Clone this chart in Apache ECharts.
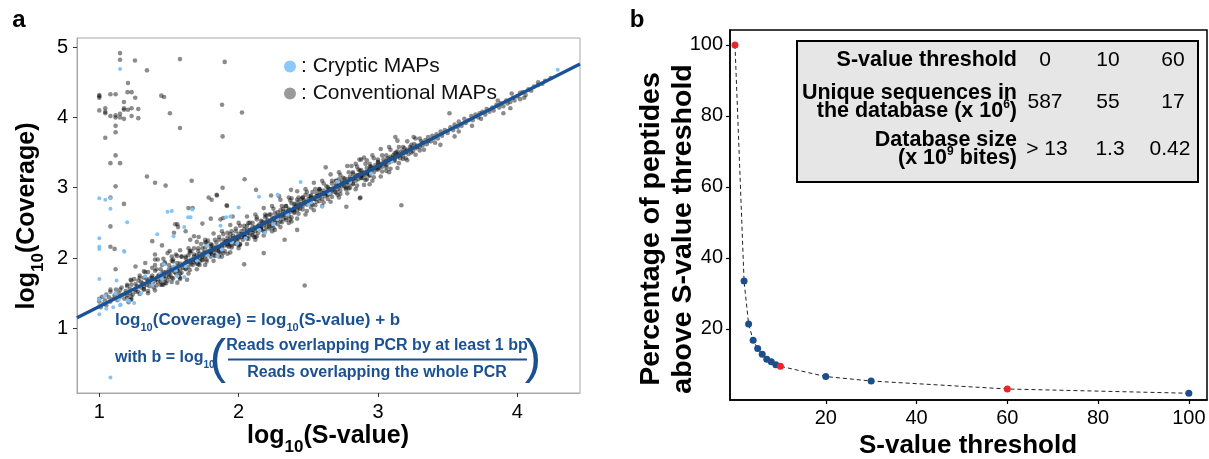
<!DOCTYPE html>
<html>
<head>
<meta charset="utf-8">
<script src="https://cdn.jsdelivr.net/npm/echarts@6/dist/echarts.min.js"></script>
<style>
html,body{margin:0;padding:0;background:#fff;}
#chart{width:1209px;height:459px;}
</style>
</head>
<body>
<div id="chart"></div>
<script>
// ---------- Panel a data: log10(S-value) vs log10(Coverage) ----------
const conventional = [
[1.149,4.915],[1.149,4.82],[1.256,4.81],[1.579,4.83],[1.90,4.79],[1.342,4.67],[1.206,4.49],[1.203,4.36],[1.232,4.36],
[1.0,4.32],[1.0,4.30],[1.0,4.28],[1.08,4.33],[1.117,4.33],[1.258,4.28],[1.445,4.31],[1.465,4.29],[1.0,4.10],[1.043,4.13],
[1.043,4.08],[1.043,4.06],[1.08,4.02],[1.117,4.03],[1.117,4.00],[1.149,4.05],[1.177,4.22],[1.177,4.13],[1.177,4.11],
[1.206,4.11],[1.232,4.13],[1.232,4.02],[1.177,3.98],[1.149,4.00],[1.28,4.12],[1.28,3.99],[1.507,4.06],[1.881,4.18],
[2.024,4.07],[1.043,3.71],[1.117,3.88],[1.117,3.79],[1.579,3.85],[1.885,3.73],[1.117,3.46],[1.08,3.35],[1.149,3.35],
[1.117,3.02],[1.342,3.16],[1.40,3.07],[1.476,3.03],[1.663,3.10],[1.885,3.00],[2.043,3.12],[1.842,2.90],[1.806,2.83],
[2.125,2.97],[1.177,2.77],[1.914,2.75],[2.233,2.89],[2.625,3.29],[1.08,2.86],[1.08,2.45],[1.08,2.16],[1.11,2.13],
[1.38,2.24],[1.45,2.18],[1.505,2.10],[1.558,2.03],[1.545,2.48],[1.565,2.44],[1.653,2.26],[1.713,2.30],[1.64,2.71],
[1.67,2.71],[1.785,2.86],[1.845,2.89],[1.917,2.74],[1.89,2.57],[1.87,2.55],[1.957,2.59],[2.29,2.88],[2.376,2.97],
[2.38,2.85],[2.42,2.83],[2.867,3.40],[2.945,3.30],[2.94,3.05],[2.87,2.85],[2.773,2.73],[2.474,1.61],[3.125,3.72],
[3.256,3.72],[3.513,4.06],[3.675,3.88],[3.168,2.75],[2.874,2.86],[2.81,3.31],[2.88,3.40],[2.92,3.39],[3.448,3.61],
[3.55,3.73],[3.58,3.80],[3.90,4.06],[3.95,4.13],[4.02,4.35],[4.15,4.50],
[1.117,1.84],[1.08,1.55],[1.225,1.69],[1.26,1.88],[1.32,1.81],[1.40,2.05],[1.49,2.07],[1.56,2.48],[1.536,2.36],
[1.33,1.93],[1.40,1.98],[1.62,2.38],[1.68,2.31],[1.74,2.49],[1.80,2.56],[1.225,1.41],[1.19,1.50],[1.15,1.55],[1.23,1.45],
[1.56,1.65],[1.63,1.69],[2.04,1.91],[2.18,2.07],[2.33,2.26],[2.42,2.40],[2.71,2.90],[2.77,2.98],
[1.00,1.38],[1.00,1.42],[1.01,1.30],[1.02,1.45],[1.03,1.35],[1.04,1.40],[1.05,1.48],[1.05,1.33],[1.07,1.44],[1.08,1.38],
[1.08,1.52],[1.10,1.42],[1.11,1.47],[1.12,1.55],[1.13,1.40],[1.14,1.50],[1.15,1.45],[1.16,1.58],[1.17,1.48],[1.18,1.42],
[1.19,1.53],[1.20,1.62],[1.20,1.47],[1.21,1.37],[1.22,1.56],
[1.22,1.50],[1.23,1.62],[1.24,1.48],[1.25,1.70],[1.26,1.55],[1.27,1.60],[1.28,1.52],[1.29,1.75],[1.30,1.58],[1.31,1.64],
[1.32,1.56],[1.33,1.80],[1.34,1.62],[1.35,1.68],[1.36,1.60],[1.37,1.72],[1.38,1.65],[1.39,1.58],[1.40,1.82],[1.41,1.70],
[1.42,1.66],[1.43,1.76],[1.44,1.62],[1.45,1.90],[1.46,1.74],[1.47,1.70],[1.48,1.80],[1.49,1.68],[1.50,1.84],[1.51,1.76],
[1.52,1.72],[1.53,1.95],[1.54,1.80],[1.55,1.78],[1.56,1.88],[1.57,1.74],[1.58,1.84],[1.59,2.02],[1.60,1.86],[1.35,1.50],
[1.42,1.98],[1.48,1.64],[1.55,2.05],[1.28,1.68],[1.45,1.78],[1.52,1.86],[1.58,1.78],[1.38,1.86],[1.47,1.94],
[1.61,1.92],[1.62,1.84],[1.62,2.00],[1.63,1.95],[1.64,1.88],[1.65,2.08],[1.65,1.94],[1.66,1.98],[1.67,1.90],[1.68,2.02],
[1.68,2.14],[1.69,1.96],[1.70,2.04],[1.70,1.92],[1.71,2.10],[1.72,2.00],[1.72,1.95],[1.73,2.20],[1.74,2.05],[1.74,1.98],
[1.75,2.08],[1.76,2.02],[1.76,2.15],[1.77,1.98],[1.78,2.10],[1.78,2.25],[1.79,2.06],[1.80,2.12],[1.80,2.02],[1.81,2.18],
[1.82,2.08],[1.82,2.14],[1.83,2.04],[1.84,2.22],[1.84,2.12],[1.85,2.10],[1.86,2.30],[1.86,2.16],[1.87,2.08],[1.88,2.20],
[1.88,2.14],[1.89,2.26],[1.90,2.18],[1.90,2.10],[1.91,2.24],[1.92,2.20],[1.92,2.36],[1.93,2.16],[1.94,2.28],[1.94,2.22],
[1.95,2.18],[1.96,2.32],[1.96,2.26],[1.97,2.20],[1.98,2.30],[1.98,2.42],[1.99,2.24],[2.00,2.34],[2.00,2.28],[2.01,2.20],
[2.02,2.38],[2.02,2.30],[2.03,2.26],[2.04,2.46],[2.04,2.34],[2.05,2.30],[2.06,2.40],[2.06,2.28],[2.07,2.36],[2.08,2.32],
[2.08,2.50],[2.09,2.40],[2.10,2.36],[2.10,2.44],[2.11,2.30],[2.12,2.42],[2.12,2.38],[2.13,2.55],[2.14,2.44],[2.14,2.36],
[2.15,2.48],[2.16,2.42],[2.16,2.40],[2.17,2.52],[2.18,2.46],[2.18,2.38],[2.19,2.58],[2.20,2.50],[2.20,2.44],[2.21,2.54],
[2.22,2.48],[2.22,2.42],[2.23,2.62],[2.24,2.52],[2.24,2.46],[2.25,2.56],[2.26,2.50],[2.26,2.64],[2.27,2.54],[2.28,2.60],
[2.28,2.48],[2.29,2.58],[2.30,2.52],[2.30,2.68],[2.31,2.60],[2.32,2.56],[2.32,2.66],[2.33,2.62],[2.34,2.54],[2.34,2.74],
[2.35,2.64],[2.36,2.60],[2.36,2.70],[2.37,2.66],[2.38,2.58],[2.38,2.78],[2.39,2.68],[2.40,2.72],[2.40,2.64],
[2.41,2.76],[2.42,2.68],[2.43,2.80],[2.43,2.72],[2.44,2.70],[2.45,2.84],[2.45,2.76],[2.46,2.74],[2.47,2.82],[2.48,2.78],
[2.48,2.90],[2.49,2.76],[2.50,2.84],[2.50,2.78],[2.51,2.88],[2.52,2.82],[2.53,2.76],[2.53,2.94],[2.54,2.86],[2.55,2.84],
[2.56,2.92],[2.56,2.80],[2.57,2.88],[2.58,2.98],[2.58,2.86],[2.59,2.90],[2.60,2.84],[2.61,2.96],[2.61,2.92],[2.62,2.88],
[2.63,3.02],[2.64,2.94],[2.64,2.90],[2.65,2.98],[2.66,2.92],[2.67,3.06],[2.67,2.96],[2.68,3.00],[2.69,2.94],[2.70,3.04],
[2.70,3.10],[2.71,2.98],[2.72,3.04],[2.73,2.96],[2.74,3.08],[2.74,3.02],[2.75,3.14],[2.76,3.06],[2.77,3.00],[2.78,3.12],
[2.78,3.08],[2.79,3.04],[2.80,3.16],[2.81,3.10],[2.82,3.06],[2.82,3.20],[2.83,3.14],[2.84,3.10],[2.85,3.18],[2.86,3.12],
[2.87,3.24],[2.88,3.16],[2.88,3.20],[2.89,3.14],[2.90,3.22],[2.91,3.18],[2.92,3.28],[2.93,3.20],[2.94,3.24],[2.94,3.18],
[2.95,3.30],[2.96,3.26],[2.97,3.22],[2.98,3.32],[2.99,3.26],[3.00,3.30],[3.00,3.36],[3.01,3.28],[3.02,3.34],[3.03,3.30],
[3.04,3.40],[3.05,3.34],[3.06,3.32],[3.07,3.42],[3.08,3.36],[3.09,3.44],[3.10,3.38],[3.11,3.46],[3.12,3.40],[3.13,3.50],
[3.14,3.44],[3.15,3.48],[3.16,3.42],[3.17,3.52],[3.18,3.46],[3.19,3.56],[3.20,3.50],
[3.21,3.54],[3.22,3.48],[3.23,3.58],[3.25,3.52],[3.26,3.62],[3.27,3.56],[3.28,3.60],[3.30,3.58],[3.31,3.66],[3.32,3.60],
[3.34,3.68],[3.35,3.62],[3.36,3.72],[3.38,3.66],[3.39,3.74],[3.40,3.70],[3.42,3.76],[3.43,3.70],[3.45,3.80],[3.46,3.74],
[3.48,3.82],[3.50,3.78],[3.33,3.54],[3.41,3.64],
[3.52,3.86],[3.54,3.82],[3.55,3.90],[3.57,3.86],[3.58,3.94],[3.60,3.88],[3.62,3.98],[3.63,3.92],[3.65,3.96],[3.67,4.02],
[3.68,3.96],[3.70,4.04],[3.72,4.00],[3.73,4.06],[3.75,4.08],[3.77,4.04],[3.78,4.12],[3.80,4.08],[3.82,4.14],[3.83,4.10],
[3.85,4.18],[3.87,4.14],[3.88,4.20],[3.90,4.16],[3.92,4.24],[3.93,4.20],[3.95,4.22],[3.97,4.28],[3.98,4.24],[4.00,4.30],
[4.02,4.26],[4.04,4.36],[4.06,4.32],[4.08,4.40],[4.10,4.38],[4.12,4.44],[4.15,4.46],[4.18,4.48],[4.20,4.52],[4.24,4.56],
[3.86,4.24],[3.96,4.34],[4.05,4.28],[3.74,3.98],
[1.30,1.66],[1.32,1.60],[1.34,1.70],[1.36,1.66],[1.38,1.72],[1.40,1.68],[1.42,1.74],[1.44,1.70],[1.46,1.80],[1.48,1.74],
[1.50,1.78],[1.52,1.82],[1.54,1.86],[1.56,1.82],[1.58,1.92],[1.60,1.90],[1.62,1.94],[1.64,1.96],[1.66,1.92],[1.68,1.98],
[1.70,2.00],[1.72,2.06],[1.74,2.02],[1.76,2.08],[1.78,2.06],[1.80,2.08],[1.82,2.12],[1.84,2.16],[1.86,2.14],[1.88,2.18],
[1.90,2.22],[1.92,2.24],[1.94,2.20],[1.96,2.28],[1.98,2.26],[2.00,2.30],[2.02,2.34],[2.04,2.32],[2.06,2.36],[2.08,2.40],
[2.10,2.40],[2.12,2.44],[2.14,2.46],[2.16,2.46],[2.18,2.50],[2.20,2.52],[2.22,2.52],[2.24,2.56],[2.26,2.58],[2.28,2.56],
[2.30,2.62],[2.32,2.62],[2.34,2.66],[2.36,2.68],[2.38,2.68],[2.40,2.70],[2.42,2.74],[2.44,2.76],[2.46,2.78],[2.48,2.80],
[2.50,2.80],[2.52,2.86],[2.54,2.84],[2.56,2.88],[2.58,2.90],[2.60,2.92],[2.62,2.92],[2.64,2.96],[2.66,2.98],[2.68,2.98],
[2.70,3.02],[2.72,3.02],[2.74,3.06],[2.76,3.08],[2.78,3.08],[2.80,3.12],[2.82,3.12],[2.84,3.16],[2.86,3.18],[2.88,3.18],
[2.90,3.20],[2.92,3.22],[2.94,3.26],[2.96,3.28],[2.98,3.28],[3.00,3.32],[3.02,3.32],[3.04,3.36],[3.06,3.38],[3.08,3.40],
[3.10,3.42],[3.12,3.44],[3.14,3.46],[3.16,3.46],[3.18,3.50],[3.20,3.52],[3.24,3.56],[3.28,3.58],[3.32,3.64],[3.36,3.66],
[1.45,1.62],[1.52,1.96],[1.66,2.10],[1.72,1.90],[1.80,2.20],[1.86,2.02],[1.94,2.34],[2.00,2.18],[2.06,2.46],[2.12,2.30],
[2.20,2.60],[2.26,2.40],[2.32,2.70],[2.38,2.52],[2.46,2.86],[2.52,2.72],[2.58,2.96],[2.64,2.84],[2.72,3.12],[2.80,3.00],
[2.86,3.26],[2.92,3.12],[3.00,3.40],[3.06,3.24],[3.14,3.52],[3.20,3.42],[1.58,1.70],[1.64,2.04],[1.76,2.22],[1.92,2.06],
[1.50,1.73],[1.50,1.90],[1.53,1.71],[1.53,1.98],[1.56,1.82],[1.56,1.93],[1.59,1.79],[1.59,2.02],[1.62,1.85],[1.62,2.02],
[1.65,1.83],[1.65,2.10],[1.68,1.94],[1.68,2.05],[1.71,1.91],[1.71,2.14],[1.74,1.97],[1.74,2.14],[1.77,1.95],[1.77,2.22],
[1.80,2.06],[1.80,2.17],[1.83,2.03],[1.83,2.26],[1.86,2.09],[1.86,2.26],[1.89,2.07],[1.89,2.34],[1.92,2.18],[1.92,2.29],
[1.95,2.15],[1.95,2.38],[1.98,2.21],[1.98,2.38],[2.01,2.19],[2.01,2.46],[2.04,2.30],[2.04,2.41],[2.07,2.27],[2.07,2.50],
[2.10,2.33],[2.10,2.50],[2.13,2.31],[2.13,2.58],[2.16,2.42],[2.16,2.53],[2.19,2.39],[2.19,2.62],[2.22,2.45],[2.22,2.62],
[2.25,2.43],[2.25,2.70],[2.28,2.54],[2.28,2.65],[2.31,2.51],[2.31,2.74],[2.34,2.57],[2.34,2.74],[2.37,2.55],[2.37,2.82],
[2.40,2.66],[2.40,2.77],[2.43,2.63],[2.43,2.86],[2.46,2.69],[2.46,2.86],[2.49,2.67],[2.49,2.94],[2.52,2.78],[2.52,2.89],
[2.55,2.75],[2.55,2.98],[2.58,2.81],[2.58,2.98],[2.61,2.79],[2.61,3.06],[2.64,2.90],[2.64,3.01],[2.67,2.87],[2.67,3.10],
[2.70,2.93],[2.70,3.10],[2.73,2.91],[2.73,3.18],[2.76,3.02],[2.76,3.13],[2.79,2.99],[2.79,3.22],[2.82,3.05],[2.82,3.22],
[2.85,3.03],[2.85,3.30],[2.88,3.14],[2.88,3.25],[2.91,3.11],[2.91,3.34],[2.94,3.17],[2.94,3.34],[2.97,3.15],[2.97,3.42],
[3.00,3.26],[3.00,3.37],[3.03,3.23],[3.03,3.46],[3.06,3.29],[3.06,3.46],[3.09,3.27],[3.09,3.54],[3.12,3.38],[3.12,3.49],
[3.15,3.35],[3.15,3.58],[3.18,3.41],[3.18,3.58],[3.21,3.39],[3.21,3.66],[3.24,3.50],[3.24,3.61],[3.27,3.47],[3.27,3.70],
[3.30,3.53],[3.30,3.70],
[1.20,1.43],[1.20,1.60],[1.23,1.41],[1.23,1.68],[1.26,1.52],[1.26,1.63],[1.29,1.49],[1.29,1.72],[1.32,1.55],[1.32,1.72],
[1.35,1.53],[1.35,1.80],[1.38,1.64],[1.38,1.75],[1.41,1.61],[1.41,1.84],[1.44,1.67],[1.44,1.84],[1.47,1.65],[1.47,1.92],
[1.40,1.90],[1.40,1.54],[1.46,1.99],[1.46,1.62],[1.52,2.02],[1.52,1.66],[1.58,2.11],[1.58,1.72],[1.64,2.14],[1.64,1.78],
[1.70,2.23],[1.70,1.84],[1.76,2.26],[1.76,1.90],[1.82,2.35],[1.82,1.96],[1.88,2.38],[1.88,2.02],[1.94,2.47],[1.94,2.08],
[2.00,2.50],[2.00,2.14],[2.06,2.59],[2.06,2.20],[2.12,2.62],[2.12,2.26],[2.18,2.71],[2.18,2.32],[2.24,2.74],[2.24,2.38],
[2.30,2.83],[2.30,2.44],[2.36,2.86],[2.36,2.50],[2.42,2.95],[2.42,2.56],[2.48,2.98],[2.48,2.62],[2.54,3.07],[2.54,2.68],
[2.60,3.10],[2.60,2.74],[2.66,3.19],[2.66,2.80],[2.72,3.22],[2.72,2.86],[2.78,3.31],[2.78,2.92],[2.84,3.34],[2.84,2.98],
[2.90,3.43],[2.90,3.04],[2.96,3.46],[2.96,3.10],[3.02,3.55],[3.02,3.16],[3.08,3.58],[3.08,3.22],[3.14,3.67],[3.14,3.28]
];
const cryptic = [
[1.149,4.69],[1.0,2.85],[1.043,2.83],[1.08,2.85],[2.146,2.87],[2.28,2.90],[2.445,3.08],[1.08,2.70],[1.20,2.51],
[1.416,2.34],[1.49,2.66],[1.52,2.67],[1.637,2.58],[1.655,2.58],[1.667,2.69],[1.0,2.28],[1.0,2.16],[1.0,2.13],
[1.177,2.10],[1.0,1.70],[1.124,1.68],[1.0,1.41],[1.0,1.32],[1.0,1.20],[1.04,1.46],[1.04,1.36],[1.08,0.30],
[1.117,1.50],[1.14,1.41],[1.153,1.34],[1.213,1.39],[1.33,1.74],[1.38,1.67],[1.44,1.77],[1.56,1.74],[1.61,1.73],
[1.464,1.91],[1.536,1.88],[1.775,2.17],[1.847,2.03],[1.99,2.21],[1.94,2.59],[2.19,2.36],[2.28,2.55],[2.52,2.79],
[2.0,2.72],[2.60,2.73],[2.706,3.09],[1.533,2.31],[1.61,2.44],[1.18,2.09],[1.87,2.46],[1.91,2.58],[4.29,4.68],[3.10,3.37],
[1.45,1.70],[1.55,1.82],[1.62,1.88],[1.70,1.96],[1.78,2.04],[1.88,2.12],[1.95,2.22],[2.05,2.28],[2.15,2.40],[2.25,2.48],
[2.35,2.62],[2.50,2.76],[2.65,2.92],[2.80,3.08],[2.95,3.20],[1.30,1.50],[1.38,1.62],[1.20,1.40],[1.25,1.36],[1.15,1.33],
[1.10,1.30],[1.05,1.28]
];
// fitted line log10(Coverage) = log10(S-value) + b, end points
const regLine = [[0.84,1.15],[4.45,4.76]];
const aTicksX = [1,2,3,4];
const aTicksY = [1,2,3,4,5];

// ---------- Panel b data ----------
const thresholdX = [0,2,3,4,5,6,7,8,9,10,20,30,60,100];
const percentAbove = [100,33.5,21.4,16.8,14.5,12.9,11.5,10.8,9.9,9.5,6.6,5.35,3.1,1.9];
const highlighted = [0,10,60];
const bTicks = [20,40,60,80,100];

// ---------- Table ----------
const tableThreshold = ['0','10','60'];
const tableUnique = ['587','55','17'];
const tableSize = ['> 13','1.3','0.42'];

const FONT = '"Liberation Sans", Arial, Helvetica, sans-serif';
const BLUE = '#1b5091';
const RED = '#e8262c';
const DOT_BLUE = '#1d4e8c';

const chart = echarts.init(document.getElementById('chart'), null, {renderer:'canvas'});

function txt(x, y, text, opt) {
  return {
    type:'text', x:x, y:y, silent:true, z:100,
    style: Object.assign({text:text, fontFamily:FONT, fill:'#000', align:'left', verticalAlign:'middle'}, opt || {})
  };
}

const colX = [1045, 1108, 1173];
const graphics = [
  // panel labels
  txt(19, 20, 'a', {fontSize:24, fontWeight:'bold', align:'center'}),
  txt(637, 20, 'b', {fontSize:24, fontWeight:'bold', align:'center'}),
  // panel a axis titles
  txt(328, 436, '{m|log}{s|10}{m|(S-value)}', {align:'center', rich:{
    m:{fontSize:25, fontWeight:'bold', fontFamily:FONT, lineHeight:40, fill:'#000'},
    s:{fontSize:17, fontWeight:'bold', fontFamily:FONT, lineHeight:17, verticalAlign:'bottom', fill:'#000'}}}),
  Object.assign(txt(27, 216, '{m|log}{s|10}{m|(Coverage)}', {align:'center', rich:{
    m:{fontSize:25, fontWeight:'bold', fontFamily:FONT, lineHeight:40, fill:'#000'},
    s:{fontSize:17, fontWeight:'bold', fontFamily:FONT, lineHeight:17, verticalAlign:'bottom', fill:'#000'}}}), {rotation:Math.PI/2}),
  // formula
  txt(115, 320, '{m|log}{s|10}{m|(Coverage) = log}{s|10}{m|(S-value) + b}', {rich:{
    m:{fontSize:17, fontWeight:'bold', fontFamily:FONT, lineHeight:26, fill:BLUE},
    s:{fontSize:11, fontWeight:'bold', fontFamily:FONT, lineHeight:11, verticalAlign:'bottom', fill:BLUE}}}),
  txt(115, 358, '{m|with b = log}{s|10}', {rich:{
    m:{fontSize:16, fontWeight:'bold', fontFamily:FONT, lineHeight:24, fill:BLUE},
    s:{fontSize:10, fontWeight:'bold', fontFamily:FONT, lineHeight:10, verticalAlign:'bottom', fill:BLUE}}}),
  txt(218, 359, '(', {fontSize:49, fill:BLUE, align:'center'}),
  txt(533, 359, ')', {fontSize:49, fill:BLUE, align:'center'}),
  txt(377, 346, 'Reads overlapping PCR by at least 1 bp', {fontSize:16, fontWeight:'bold', fill:BLUE, align:'center'}),
  txt(377, 373, 'Reads overlapping the whole PCR', {fontSize:16, fontWeight:'bold', fill:BLUE, align:'center'}),
  {type:'line', silent:true, z:100, shape:{x1:228, y1:359.5, x2:527, y2:359.5}, style:{stroke:BLUE, lineWidth:2.2}},
  // panel b axis titles
  txt(968, 446, 'S-value threshold', {fontSize:26, fontWeight:'bold', align:'center'}),
  Object.assign(txt(667, 229, 'Percentage of peptides\nabove S-value threshold', {fontSize:28.5, fontWeight:'bold', align:'center', lineHeight:32}), {rotation:Math.PI/2}),
  // table
  {type:'rect', silent:true, z:90, shape:{x:797, y:41, width:401, height:141}, style:{fill:'#e6e6e6', stroke:'#000', lineWidth:2}},
  txt(1017, 60, 'S-value threshold', {fontSize:21.5, fontWeight:'bold', align:'right'}),
  txt(1017, 93, 'Unique sequences in', {fontSize:21.5, fontWeight:'bold', align:'right'}),
  txt(1017, 111, '{m|the database (x 10}{p|6}{m|)}', {align:'right', rich:{
    m:{fontSize:21.5, fontWeight:'bold', fontFamily:FONT, lineHeight:24, fill:'#000'},
    p:{fontSize:12, fontWeight:'bold', fontFamily:FONT, lineHeight:16, verticalAlign:'top', fill:'#000'}}}),
  txt(1017, 140, 'Database size', {fontSize:21.5, fontWeight:'bold', align:'right'}),
  txt(1017, 158, '{m|(x 10}{p|9}{m| bites)}', {align:'right', rich:{
    m:{fontSize:21.5, fontWeight:'bold', fontFamily:FONT, lineHeight:24, fill:'#000'},
    p:{fontSize:12, fontWeight:'bold', fontFamily:FONT, lineHeight:16, verticalAlign:'top', fill:'#000'}}})
];
tableThreshold.forEach((v,i)=>graphics.push(txt(colX[i], 60, v, {fontSize:21, align:'center'})));
tableUnique.forEach((v,i)=>graphics.push(txt(colX[i], 102, v, {fontSize:21, align:'center'})));
tableSize.forEach((v,i)=>graphics.push(txt(colX[i]+[2,2,-3][i], 149, v, {fontSize:21, align:'center'})));

const option = {
  animation:false,
  backgroundColor:'#fff',
  textStyle:{fontFamily:FONT},
  grid:[
    {left:77, top:38, width:503, height:355, show:true, borderColor:'#a8a8a8', borderWidth:1, backgroundColor:'transparent'},
    {left:730, top:30, width:477, height:370, show:true, borderColor:'#000', borderWidth:1.5, backgroundColor:'transparent'}
  ],
  legend:{
    left:279, top:51, orient:'vertical', itemGap:6, itemWidth:12, itemHeight:12, icon:'circle',
    formatter:': {name}', selectedMode:false,
    textStyle:{fontSize:21, color:'#111', fontFamily:FONT},
    data:[
      {name:'Cryptic MAPs', itemStyle:{color:'#8cc9fa', opacity:1}},
      {name:'Conventional MAPs', itemStyle:{color:'#9a9a9a', opacity:1}}
    ]
  },
  xAxis:[
    {type:'value', gridIndex:0, min:0.84, max:4.45,
     axisLine:{show:true, onZero:false, lineStyle:{color:'#a8a8a8', width:1}},
     axisTick:{show:true, length:4, customValues:aTicksX, lineStyle:{color:'#333'}},
     axisLabel:{customValues:aTicksX, fontSize:20, color:'#000', margin:9, fontFamily:FONT},
     splitLine:{show:false}},
    {type:'value', gridIndex:1, min:-1.1, max:104,
     axisLine:{show:true, onZero:false, lineStyle:{color:'#000', width:1.5}},
     axisTick:{show:true, length:4, customValues:bTicks, lineStyle:{color:'#000', width:1.2}},
     axisLabel:{customValues:bTicks, fontSize:20, color:'#000', margin:8, fontFamily:FONT},
     splitLine:{show:false}}
  ],
  yAxis:[
    {type:'value', gridIndex:0, min:0.08, max:5.13,
     axisLine:{show:true, onZero:false, lineStyle:{color:'#a8a8a8', width:1}},
     axisTick:{show:true, length:4, customValues:aTicksY, lineStyle:{color:'#333'}},
     axisLabel:{customValues:aTicksY, fontSize:20, color:'#000', margin:9, fontFamily:FONT},
     splitLine:{show:false}},
    {type:'value', gridIndex:1, min:0, max:104.2,
     axisLine:{show:true, onZero:false, lineStyle:{color:'#000', width:1.5}},
     axisTick:{show:true, length:4, customValues:bTicks, lineStyle:{color:'#000', width:1.2}},
     axisLabel:{customValues:bTicks, fontSize:20, color:'#000', margin:7, fontFamily:FONT},
     splitLine:{show:false}}
  ],
  series:[
    {name:'Conventional MAPs', type:'scatter', xAxisIndex:0, yAxisIndex:0, data:conventional,
     symbolSize:4.6, itemStyle:{color:'#000', opacity:0.45}, silent:true, z:2},
    {name:'Cryptic MAPs', type:'scatter', xAxisIndex:0, yAxisIndex:0, data:cryptic,
     symbolSize:4, itemStyle:{color:'#7fc0f6', opacity:0.95}, silent:true, z:3},
    {name:'fit', type:'line', xAxisIndex:0, yAxisIndex:0, data:regLine, symbol:'none',
     lineStyle:{color:'#1a5296', width:3.2}, silent:true, z:4},
    {name:'threshold', type:'line', xAxisIndex:1, yAxisIndex:1,
     data:thresholdX.map((x,i)=>({value:[x, percentAbove[i]], itemStyle:{color: highlighted.indexOf(x)>=0 ? RED : DOT_BLUE}})),
     symbol:'circle', symbolSize:7, showSymbol:true, showAllSymbol:true,
     lineStyle:{color:'#222', width:1, type:[4,3]}, silent:true, z:5}
  ],
  graphic:graphics
};
chart.setOption(option);
</script>
</body>
</html>
